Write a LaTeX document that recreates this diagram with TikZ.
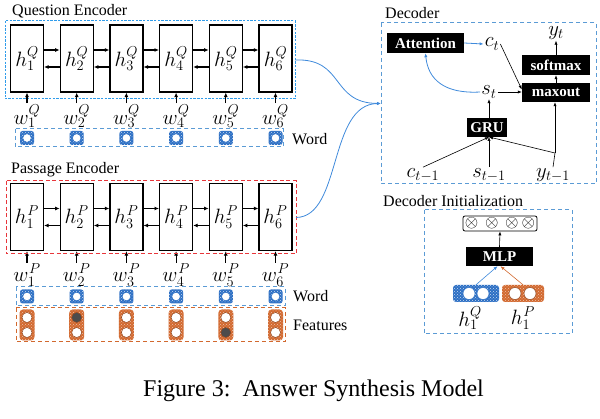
\documentclass[tikz,border=0pt]{standalone}
\usepackage{fontspec}
\setmainfont{Liberation Serif}
\usetikzlibrary{arrows.meta,patterns,calc}
\definecolor{qblue}{HTML}{2F9CEB}
\definecolor{dblue}{HTML}{5B9BD5}
\definecolor{iblue}{HTML}{2C6FC4}
\definecolor{pred}{HTML}{E8363B}
\definecolor{forange}{HTML}{D2692F}
\definecolor{cblue}{HTML}{3F8ADB}
\newcommand{\wordicon}[2]{%
  \fill[iblue, rounded corners=2.5pt] (#1-7,#2-7) rectangle (#1+7,#2+7);
  \fill[pattern=crosshatch dots, pattern color=white!75!iblue, rounded corners=2.5pt] (#1-7,#2-7) rectangle (#1+7,#2+7);
  \draw[iblue, fill=white, line width=0.6pt] (#1,#2) circle (4.3);
}
\newcommand{\featpill}[3]{%
  \fill[forange, rounded corners=3.5pt] (#1-7.5,309.5) rectangle (#1+7.5,340.5);
  \fill[pattern=crosshatch dots, pattern color=white!60!forange, rounded corners=3.5pt] (#1-7.5,309.5) rectangle (#1+7.5,340.5);
  \draw[forange!70!black, fill=#2, line width=0.5pt] (#1,317.5) circle (5);
  \draw[forange!70!black, fill=#3, line width=0.5pt] (#1,332.5) circle (5);
}
\begin{document}
\begin{tikzpicture}[x=1pt,y=-1pt,
  hbox/.style={draw, line width=1.2pt, minimum width=33pt, minimum height=67pt, inner sep=0pt, font=\fontsize{20}{24}\selectfont},
  wlbl/.style={inner sep=1pt, font=\fontsize{20}{24}\selectfont},
  mlbl/.style={inner sep=1pt, font=\fontsize{20}{24}\selectfont},
  ttl/.style={inner sep=0pt, anchor=west, font=\fontsize{16}{19}\selectfont},
  blk/.style={fill=black, text=white, font=\fontsize{15}{18}\selectfont\bfseries, inner sep=0pt},
  arr/.style={-{Latex[length=4.5pt,width=4pt]}, line width=1.1pt},
  tarr/.style={-{Latex[length=4pt,width=3.2pt]}, line width=0.6pt},
  barr/.style={-{Latex[length=4pt,width=3.2pt]}, line width=0.8pt, cblue},
  qframe/.style={draw=qblue, line width=1pt, dash pattern=on 2.4pt off 1.3pt},
  pframe/.style={draw=pred, line width=1pt, dash pattern=on 4pt off 2.5pt},
  dframe/.style={draw=dblue, line width=1pt, dash pattern=on 4pt off 3pt},
  oframe/.style={draw=forange, line width=1pt, dash pattern=on 4pt off 3pt},
]
\useasboundingbox (0,0) rectangle (600,419);

% ---------- Question encoder ----------
\node[ttl] (qt) at (12,11) {Question Encoder};
\draw[qframe] (5,21) rectangle (295,99);
\coordinate (qencE) at (295,60);
\foreach \i/\x in {1/27,2/76.7,3/126.4,4/176.1,5/225.8,6/275.5} {
  \node[hbox, fill=white] (q\i) at (\x,58.5) {$h_{\i}^{Q}$};
  \node[wlbl] (wq\i) at (\x,116) {$w_{\i}^{Q}$};
  \draw[arr] (wq\i.north) -- (q\i.south);
  \node[hbox, fill=white] (p\i) at (\x,217) {$h_{\i}^{\mkern1mu P}$};
  \node[wlbl] (wp\i) at (\x,275) {$w_{\i}^{\mkern1mu P}$};
  \draw[arr] (wp\i.north) -- (p\i.south);
}
\foreach \i/\j in {1/2,2/3,3/4,4/5,5/6} {
  \draw[arr] ($(q\i.east)+(0,-8.5)$) -- ($(q\j.west)+(0,-8.5)$);
  \draw[arr] ($(q\j.west)+(0,8.5)$) -- ($(q\i.east)+(0,8.5)$);
  \draw[arr] ($(p\i.east)+(0,-8.5)$) -- ($(p\j.west)+(0,-8.5)$);
  \draw[arr] ($(p\j.west)+(0,8.5)$) -- ($(p\i.east)+(0,8.5)$);
}
\draw[dframe] (15,129) rectangle (283,147);
\foreach \x in {27,76.7,126.4,176.1,225.8,275.5} { \wordicon{\x}{138} }
\node[ttl] (qwl) at (292,139) {Word};

% ---------- Passage encoder ----------
\node[ttl] (pt) at (11,170) {Passage Encoder};
\draw[pframe] (6,181) rectangle (296,254);
\coordinate (pencE) at (296,217.5);
\draw[dframe] (16,287) rectangle (285,306);
\draw[oframe] (16,308) rectangle (285,342);
\foreach \x in {27,76.7,126.4,176.1,225.8,275.5} { \wordicon{\x}{296.5} }
\featpill{27}{white}{white}
\featpill{76.7}{black!70}{white}
\featpill{126.4}{white}{white}
\featpill{176.1}{white}{white}
\featpill{225.8}{white}{black!70}
\featpill{275.5}{white}{white}
\node[ttl] (pwl) at (293,296) {Word};
\node[ttl] (pfl) at (293,325) {Features};

% ---------- Decoder ----------
\node[ttl] (dt) at (385,13) {Decoder};
\draw[dframe] (381,23) rectangle (596,184);
\coordinate (decW) at (381,103.5);
\node[blk, minimum width=77pt, minimum height=20pt] (att) at (425.5,43) {Attention};
\node[mlbl] (ct) at (492,44) {$c_t$};
\node[mlbl] (yt) at (556,33) {$y_t$};
\node[blk, minimum width=68pt, minimum height=20pt] (soft) at (556,65) {softmax};
\node[blk, minimum width=68pt, minimum height=19pt] (maxo) at (556,92.5) {maxout};
\node[mlbl] (st) at (489,92) {$s_t$};
\node[blk, minimum width=40pt, minimum height=19pt] (gru) at (487,127.5) {GRU};
\node[mlbl] (cm) at (423,175) {$c_{t-1}$};
\node[mlbl] (sm) at (489,175) {$s_{t-1}$};
\node[mlbl] (ym) at (553,175) {$y_{t-1}$};
\coordinate (gin) at (489,137);
\coordinate (yj) at (555,153);
\draw[tarr] (cm.north) -- (gin);
\draw[tarr] (sm.north) -- (gin);
\draw[line width=0.6pt] (ym.north) -- (yj);
\draw[tarr] (yj) -- (gin);
\draw[tarr] (yj) -- (yj |- maxo.south);
\draw[tarr] (gru.north -| st) -- (st.south);
\draw[tarr] (st.east) -- (st.east -| maxo.west);
\draw[tarr] (ct.east) -- ($(maxo.west)+(0,-3)$);
\draw[tarr] (maxo.north) -- (soft.south);
\draw[tarr] (soft.north) -- (yt.south);
\draw[barr] (att.east) -- (ct.west);
\draw[barr] (st.west) .. controls (445,94) and (428,80) .. (att.south);

% ---------- Encoder to decoder ----------
\draw[barr] (qencE) .. controls (345,58) and (330,103) .. (decW);
\draw[barr] (pencE) .. controls (342,217) and (328,104) .. (decW);

% ---------- Decoder initialization ----------
\node[ttl] (dit) at (383,201) {Decoder Initialization};
\draw[dframe] (424,210) rectangle (572,334);
\node[draw, rounded corners=2pt, line width=0.8pt, minimum width=74pt, minimum height=15pt, inner sep=0pt, font=\fontsize{17}{18}\selectfont] (outv) at (500,223.5) {$\otimes\,\otimes\,\otimes\,\otimes$};
\node[blk, minimum width=67pt, minimum height=19pt] (mlp) at (499.5,256.5) {MLP};
\node[fill=iblue, rounded corners=3pt, minimum width=46pt, minimum height=17pt, inner sep=0pt] (hq) at (476,293.5) {};
\fill[pattern=crosshatch dots, pattern color=white!75!iblue, rounded corners=3pt] (hq.south west) rectangle (hq.north east);
\draw[iblue, fill=white, line width=0.5pt] (469,293.5) circle (6);
\draw[iblue, fill=white, line width=0.5pt] (483,293.5) circle (6);
\node[fill=forange, rounded corners=3pt, minimum width=42pt, minimum height=17pt, inner sep=0pt] (hp) at (523,293.5) {};
\fill[pattern=crosshatch dots, pattern color=white!60!forange, rounded corners=3pt] (hp.south west) rectangle (hp.north east);
\draw[forange!70!black, fill=white, line width=0.5pt] (515,293.5) circle (6);
\draw[forange!70!black, fill=white, line width=0.5pt] (530,293.5) circle (6);
\node[mlbl] (hql) at (470,318) {$h_1^{Q}$};
\node[mlbl] (hpl) at (523,318) {$h_1^{\mkern1mu P}$};
\draw[tarr, cblue] (hq.north) -- ($(mlp.south)+(-2,0)$);
\draw[tarr, forange] (hp.north) -- ($(mlp.south)+(1,0)$);
\draw[tarr] (mlp.north) -- (outv.south);

% ---------- Caption ----------
\node[inner sep=0pt, font=\fontsize{24}{28}\selectfont] (cap) at (313.5,391) {Figure 3:\ \ Answer Synthesis Model};
\end{tikzpicture}
\end{document}
